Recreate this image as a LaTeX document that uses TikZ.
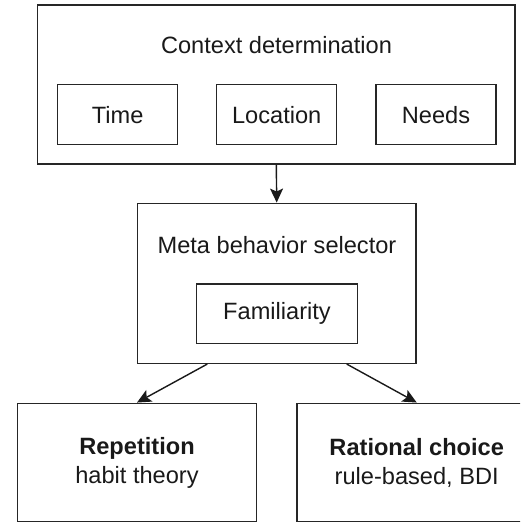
\documentclass[tikz,border=0pt]{standalone}
\usepackage{fontspec}
\setmainfont{Liberation Sans}
\usetikzlibrary{arrows.meta,calc}
\begin{document}
\begin{tikzpicture}[x=0.5pt,y=-0.5pt,
  box/.style={draw=black!85,line width=0.75pt,rectangle,inner sep=0pt},
  lbl/.style={font=\fontsize{11.8}{14.5}\selectfont,text=black!90,inner sep=0pt},
  arr/.style={draw=black!90,line width=0.7pt,-{Stealth[length=7pt,width=6.5pt,inset=1.5pt]}}]
\useasboundingbox (0,0) rectangle (520,523);
\clip (0,0) rectangle (520,523);
% top box
\node[box,minimum width=238.7pt,minimum height=79.5pt] (ctx) at (276.3,84.5) {};
\node[lbl] (ctxl) at (276.5,45) {Context determination};
\node[box,lbl,minimum width=60pt,minimum height=30pt] (time) at (117.6,114.7) {Time};
\node[box,lbl,minimum width=60pt,minimum height=30pt] (loc) at (276.7,114.7) {Location};
\node[box,lbl,minimum width=60pt,minimum height=30pt] (needs) at (436,114.7) {Needs};
% middle box
\node[box,minimum width=139.3pt,minimum height=80pt] (meta) at (276.7,283.3) {};
\node[lbl] (metal) at (277,245) {Meta behavior selector};
\node[box,lbl,minimum width=80.3pt,minimum height=29.7pt] (fam) at (277,313.7) {Familiarity};
% bottom boxes
\node[box,lbl,align=center,minimum width=119.7pt,minimum height=59.2pt] (rep) at (137,462.5) {\textbf{Repetition}\\habit theory};
\node[box,lbl,align=center,minimum width=119.7pt,minimum height=59.2pt] (rat) at (416.7,462.5) {\textbf{Rational choice}\\rule-based, BDI};
% arrows
\draw[arr] (ctx.south) -- (meta.north);
\draw[arr] ($(meta.south)+(-69.4,0)$) -- (rep.north);
\draw[arr] ($(meta.south)+(70,0)$) -- (rat.north);
\end{tikzpicture}
\end{document}
